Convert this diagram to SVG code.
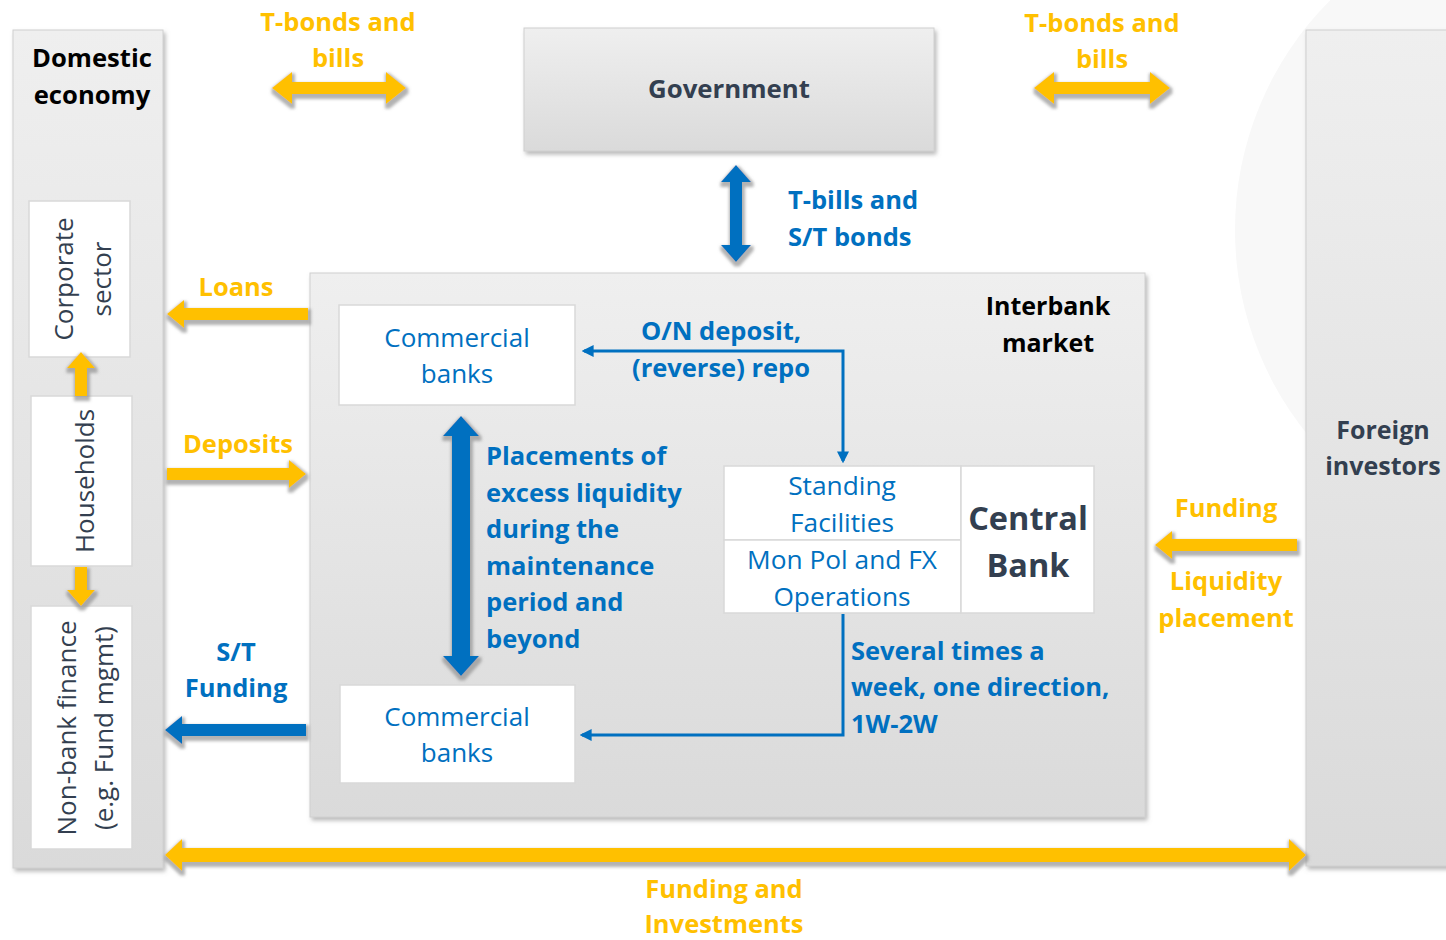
<svg xmlns="http://www.w3.org/2000/svg" width="1446" height="940" viewBox="0 0 1446 940">
  <defs>
    <linearGradient id="panelGrad" x1="0" y1="0" x2="0" y2="1">
      <stop offset="0" stop-color="#efefef"/>
      <stop offset="1" stop-color="#dadada"/>
    </linearGradient>
    <filter id="shadow" x="-10%" y="-10%" width="130%" height="130%">
      <feDropShadow dx="2" dy="3" stdDeviation="2" flood-color="#7f7f7f" flood-opacity="0.55"/>
    </filter>
    <filter id="arrowShadow" x="-20%" y="-40%" width="140%" height="180%">
      <feMorphology in="SourceAlpha" operator="dilate" radius="1.5" result="grow"/>
      <feOffset in="grow" dx="1" dy="3" result="off"/>
      <feGaussianBlur in="off" stdDeviation="1.5" result="blur"/>
      <feFlood flood-color="#8a8a8a" flood-opacity="0.65"/>
      <feComposite in2="blur" operator="in" result="sh"/>
      <feMerge><feMergeNode in="sh"/><feMergeNode in="SourceGraphic"/></feMerge>
    </filter>
    <marker id="tipBlue" viewBox="0 0 10 10" refX="8" refY="5" markerWidth="4" markerHeight="4" orient="auto-start-reverse" markerUnits="strokeWidth">
      <path d="M0,0 L10,5 L0,10 Z" fill="#0070c0"/>
    </marker>
    <style>
      .txt { font-family: "Open Sans", "Noto Sans", "DejaVu Sans", sans-serif; }
      .b { font-weight: 700; }
      .yel { fill: #ffc000; }
      .blu { fill: #0070c0; }
      .slate { fill: #333f50; }
      .blk { fill: #000000; }
      .lbl { font-size: 25.5px; }
      .panel { fill: url(#panelGrad); stroke: #d0d0d0; stroke-width: 1; filter: url(#shadow); }
      .box { fill: #ffffff; stroke: #d9d9d9; stroke-width: 1.5; }
      .ya { fill: #ffc000; filter: url(#arrowShadow); }
      .ba { fill: #0070c0; filter: url(#arrowShadow); }
      .conn { fill: none; stroke: #0070c0; stroke-width: 3; }
    </style>
  </defs>

  <rect width="1446" height="940" fill="#ffffff"/>
  <!-- faint backdrop disc on the right -->
  <circle cx="1560" cy="230" r="325" fill="#f8f8f8"/>

  <!-- Domestic economy -->
  <g id="domestic">
    <rect class="panel" x="13" y="30" width="150" height="838"/>
    <text class="txt b blk" font-size="25.6" text-anchor="middle"><tspan x="92" y="67">Domestic</tspan><tspan x="92" y="104">economy</tspan></text>
  </g>
  <g id="corporate">
    <rect class="box" x="29" y="201" width="101" height="156"/>
    <text class="txt slate" font-size="26" text-anchor="middle" transform="translate(80,279) rotate(-90)"><tspan x="0" y="-7">Corporate</tspan><tspan x="0" y="31">sector</tspan></text>
  </g>
  <g id="households">
    <rect class="box" x="31" y="396" width="101" height="170"/>
    <text class="txt slate" font-size="26" text-anchor="middle" transform="translate(81,481) rotate(-90)"><tspan x="0" y="13">Households</tspan></text>
  </g>
  <g id="nonbank">
    <rect class="box" x="31" y="606" width="101" height="243"/>
    <text class="txt slate" font-size="26" text-anchor="middle" transform="translate(81,728) rotate(-90)"><tspan x="0" y="-5">Non-bank finance</tspan><tspan x="0" y="32">(e.g. Fund mgmt)</tspan></text>
  </g>

  <!-- Government -->
  <g id="government">
    <rect class="panel" x="524" y="28" width="410" height="123"/>
    <text class="txt b slate" font-size="25.8" text-anchor="middle" x="729" y="98">Government</text>
  </g>

  <!-- Foreign investors -->
  <g id="foreign">
    <rect class="panel" x="1306" y="30" width="150" height="836"/>
    <text class="txt b slate" font-size="25" text-anchor="middle"><tspan x="1383" y="439">Foreign</tspan><tspan x="1383" y="475">investors</tspan></text>
  </g>

  <!-- Interbank market -->
  <g id="interbank">
    <rect class="panel" x="310" y="273" width="835" height="544"/>
    <text class="txt b blk" font-size="25" text-anchor="middle"><tspan x="1048" y="315">Interbank</tspan><tspan x="1048" y="352">market</tspan></text>
  </g>
  <g id="banks-top">
    <rect class="box" x="339" y="305" width="236" height="100"/>
    <text class="txt blu" font-size="26" text-anchor="middle"><tspan x="457" y="347">Commercial</tspan><tspan x="457" y="383">banks</tspan></text>
  </g>
  <g id="banks-bottom">
    <rect class="box" x="340" y="685" width="235" height="98"/>
    <text class="txt blu" font-size="26" text-anchor="middle"><tspan x="457" y="726">Commercial</tspan><tspan x="457" y="762">banks</tspan></text>
  </g>
  <g id="central-bank">
    <rect class="box" x="724" y="466" width="237" height="74"/>
    <rect class="box" x="724" y="540" width="237" height="73"/>
    <rect class="box" x="961" y="466" width="133" height="147"/>
    <text class="txt blu" font-size="26.3" text-anchor="middle"><tspan x="842" y="495">Standing</tspan><tspan x="842" y="532">Facilities</tspan></text>
    <text class="txt blu" font-size="26.3" text-anchor="middle"><tspan x="842" y="569">Mon Pol and FX</tspan><tspan x="842" y="606">Operations</tspan></text>
    <text class="txt b slate" font-size="32.5" text-anchor="middle"><tspan x="1028" y="530">Central</tspan><tspan x="1028" y="577">Bank</tspan></text>
  </g>

  <!-- Connectors and flows -->
  <g id="connectors">
    <!-- T-bonds and bills, domestic side -->
    <path class="ya" d="M272,88 L292,72 L292,82 L386,82 L386,72 L406,88 L386,104 L386,94 L292,94 L292,104 Z"/>
    <!-- T-bonds and bills, foreign side -->
    <path class="ya" d="M1034,88 L1054,72 L1054,82 L1150,82 L1150,72 L1170,88 L1150,104 L1150,94 L1054,94 L1054,104 Z"/>
    <!-- Government to interbank -->
    <path class="ba" d="M736,165 L751,182 L742,182 L742,245 L751,245 L736,262 L721,245 L730,245 L730,182 L721,182 Z"/>
    <!-- Loans -->
    <path class="ya" d="M167,314 L184,300 L184,308 L308,308 L308,320 L184,320 L184,328 Z"/>
    <!-- Deposits -->
    <path class="ya" d="M306,474 L289,460 L289,468 L167,468 L167,480 L289,480 L289,488 Z"/>
    <!-- S/T funding -->
    <path class="ba" d="M165,730 L182,716 L182,724 L306,724 L306,736 L182,736 L182,744 Z"/>
    <!-- Foreign funding / liquidity placement -->
    <path class="ya" d="M1155,545 L1172,531 L1172,539 L1297,539 L1297,551 L1172,551 L1172,559 Z"/>
    <!-- Funding and investments -->
    <path class="ya" d="M165,855 L182,839 L182,848 L1289,848 L1289,839 L1306,855 L1289,871 L1289,862 L182,862 L182,871 Z"/>
    <!-- Households to corporate / non-bank -->
    <path class="ya" d="M81,352 L95,368 L87,368 L87,396 L75,396 L75,368 L67,368 Z"/>
    <path class="ya" d="M81,606 L95,590 L87,590 L87,567 L75,567 L75,590 L67,590 Z"/>
    <!-- Placements between commercial banks -->
    <path class="ba" d="M461,416 L479,436 L470,436 L470,656 L479,656 L461,676 L443,656 L452,656 L452,436 L443,436 Z"/>
    <!-- O/N deposit, (reverse) repo -->
    <path class="conn" d="M584,351 L843,351 L843,461" marker-start="url(#tipBlue)" marker-end="url(#tipBlue)"/>
    <!-- Several times a week -->
    <path class="conn" d="M843,614 L843,735 L582,735" marker-end="url(#tipBlue)"/>
  </g>

  <!-- Flow labels -->
  <g id="labels">
    <text class="txt b yel lbl" text-anchor="middle"><tspan x="338" y="31">T-bonds and</tspan><tspan x="338" y="67">bills</tspan></text>
    <text class="txt b yel lbl" text-anchor="middle"><tspan x="1102" y="32">T-bonds and</tspan><tspan x="1102" y="68">bills</tspan></text>
    <text class="txt b blu lbl"><tspan x="788" y="209">T-bills and</tspan><tspan x="788" y="246">S/T bonds</tspan></text>
    <text class="txt b yel lbl" text-anchor="middle" x="236" y="296">Loans</text>
    <text class="txt b yel lbl" text-anchor="middle" x="238" y="453">Deposits</text>
    <text class="txt b blu lbl" text-anchor="middle"><tspan x="236" y="661">S/T</tspan><tspan x="236" y="697">Funding</tspan></text>
    <text class="txt b yel lbl" text-anchor="middle" x="1226" y="517">Funding</text>
    <text class="txt b yel lbl" text-anchor="middle"><tspan x="1226" y="590">Liquidity</tspan><tspan x="1226" y="627">placement</tspan></text>
    <text class="txt b yel lbl" text-anchor="middle"><tspan x="724" y="898">Funding and</tspan><tspan x="724" y="933">Investments</tspan></text>
    <text class="txt b blu lbl" text-anchor="middle"><tspan x="721" y="340">O/N deposit,</tspan><tspan x="721" y="377">(reverse) repo</tspan></text>
    <text class="txt b blu lbl"><tspan x="486" y="465">Placements of</tspan><tspan x="486" y="502">excess liquidity</tspan><tspan x="486" y="538">during the</tspan><tspan x="486" y="575">maintenance</tspan><tspan x="486" y="611">period and</tspan><tspan x="486" y="648">beyond</tspan></text>
    <text class="txt b blu lbl"><tspan x="851" y="660">Several times a</tspan><tspan x="851" y="696">week, one direction,</tspan><tspan x="851" y="733">1W-2W</tspan></text>
  </g>
</svg>
